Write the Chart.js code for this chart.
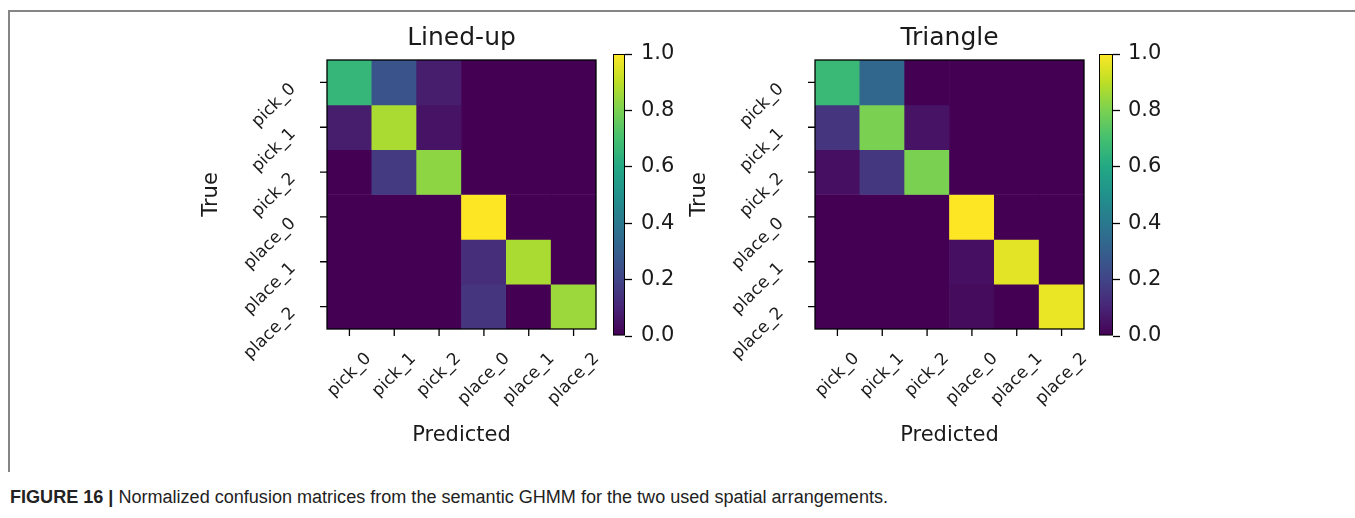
<!DOCTYPE html>
<html>
<head>
<meta charset="utf-8">
<script src="https://cdn.jsdelivr.net/npm/chart.js@4.4.0/dist/chart.umd.min.js"></script>
<style>
  body { margin: 0; background: #fff; width: 1355px; height: 518px; overflow: hidden; position: relative; }
  .frame { position: absolute; left: 8px; top: 10px; width: 1347px; height: 460px; border-top: 2px solid #858585; border-left: 2px solid #858585; }
  canvas { position: absolute; top: 0; }
  #leftMatrix { left: 150px; }
  #leftBar { left: 600px; }
  #rightMatrix { left: 640px; }
  #rightBar { left: 1086px; }
  .caption { position: absolute; left: 10px; top: 487px; font: 18px "Liberation Sans Narrow", "Liberation Sans", sans-serif; color: #222; white-space: nowrap; transform-origin: 0 50%; }
  .caption b { font-weight: bold; }
</style>
</head>
<body>
<div class="frame"></div>
<canvas id="leftMatrix" width="460" height="470"></canvas>
<canvas id="leftBar" width="100" height="400"></canvas>
<canvas id="rightMatrix" width="460" height="470"></canvas>
<canvas id="rightBar" width="100" height="400"></canvas>
<div class="caption"><b>FIGURE 16 |</b> Normalized confusion matrices from the semantic GHMM for the two used spatial arrangements.</div>

<script>
// class labels (rows = true, columns = predicted)
const classes = ["pick_0", "pick_1", "pick_2", "place_0", "place_1", "place_2"];

// normalized confusion matrix, "Lined-up" arrangement
const linedUp = [
  [0.66, 0.26, 0.08, 0.00, 0.00, 0.00],
  [0.08, 0.87, 0.05, 0.00, 0.00, 0.00],
  [0.00, 0.17, 0.83, 0.00, 0.00, 0.00],
  [0.00, 0.00, 0.00, 1.00, 0.00, 0.00],
  [0.00, 0.00, 0.00, 0.13, 0.87, 0.00],
  [0.00, 0.00, 0.00, 0.15, 0.00, 0.85]
];

// normalized confusion matrix, "Triangle" arrangement
const triangle = [
  [0.67, 0.33, 0.00, 0.00, 0.00, 0.00],
  [0.15, 0.80, 0.05, 0.00, 0.00, 0.00],
  [0.04, 0.16, 0.80, 0.00, 0.00, 0.00],
  [0.00, 0.00, 0.00, 1.00, 0.00, 0.00],
  [0.00, 0.00, 0.00, 0.04, 0.96, 0.00],
  [0.00, 0.00, 0.00, 0.03, 0.00, 0.97]
];

const cbarTicks = [0.0, 0.2, 0.4, 0.6, 0.8, 1.0];

// viridis colour map
const viridisStops = ["#440154", "#482475", "#414487", "#355f8d", "#2a788e", "#21918c",
                      "#22a884", "#44bf70", "#7ad151", "#bddf26", "#fde725"];

function hexRgb(h) {
  return [parseInt(h.slice(1, 3), 16), parseInt(h.slice(3, 5), 16), parseInt(h.slice(5, 7), 16)];
}

function viridis(v) {
  v = Math.max(0, Math.min(1, v));
  const p = v * (viridisStops.length - 1);
  const i = Math.min(Math.floor(p), viridisStops.length - 2);
  const t = p - i;
  const a = hexRgb(viridisStops[i]), b = hexRgb(viridisStops[i + 1]);
  const c = a.map((x, k) => Math.round(x + (b[k] - x) * t));
  return `rgb(${c[0]},${c[1]},${c[2]})`;
}

const TXT = "#1a1a1a";
const TICK_SIZE = 17;
const TICK_FONT = TICK_SIZE + 'px "DejaVu Sans"';
const LABEL_FONT = '21px "DejaVu Sans"';
const TITLE_FONT = '25px "DejaVu Sans"';

// draws frame, ticks, rotated tick labels, axis titles and title like matplotlib
const matrixAxes = {
  id: "matrixAxes",
  afterDraw(chart, args, opts) {
    const ctx = chart.ctx;
    const area = chart.chartArea;
    const xs = chart.scales.x, ys = chart.scales.y;
    ctx.save();
    ctx.strokeStyle = "#000";
    ctx.lineWidth = 1.3;
    ctx.strokeRect(area.left, area.top, area.right - area.left, area.bottom - area.top);

    ctx.fillStyle = TXT;
    ctx.font = TICK_FONT;
    classes.forEach((name, i) => {
      const x = xs.getPixelForValue(i);
      const y = ys.getPixelForValue(i + 0.5);
      ctx.beginPath();
      ctx.moveTo(x, area.bottom); ctx.lineTo(x, area.bottom + 7);
      ctx.moveTo(area.left, y); ctx.lineTo(area.left - 7, y);
      ctx.stroke();

      const w = ctx.measureText(name).width;
      const s = (w + TICK_SIZE) * Math.SQRT1_2;
      ctx.textAlign = "center";
      ctx.textBaseline = "middle";
      // bottom labels: centred under tick
      ctx.save();
      ctx.translate(x, area.bottom + 21 + s / 2);
      ctx.rotate(-Math.PI / 4);
      ctx.fillText(name, 0, 0);
      ctx.restore();
      // left labels: right/top aligned at tick
      ctx.save();
      ctx.translate(area.left - 28 - s / 2, y - 2 + s / 2);
      ctx.rotate(-Math.PI / 4);
      ctx.fillText(name, 0, 0);
      ctx.restore();
    });

    const cx = (area.left + area.right) / 2;
    const cy = (area.top + area.bottom) / 2;
    ctx.textAlign = "center";
    ctx.textBaseline = "middle";
    ctx.font = LABEL_FONT;
    ctx.fillText("Predicted", cx, area.bottom + 107);
    ctx.save();
    ctx.translate(area.left - 115, cy);
    ctx.rotate(-Math.PI / 2);
    ctx.fillText("True", 0, 0);
    ctx.restore();
    ctx.font = TITLE_FONT;
    ctx.fillText(opts.title, cx, area.top - 22);
    ctx.restore();
  }
};

function makeMatrix(id, title, matrix, pad) {
  new Chart(document.getElementById(id), {
    type: "bar",
    data: {
      labels: classes,
      datasets: matrix.map((row, r) => ({
        data: row.map(() => [r, r + 1]),
        backgroundColor: row.map(v => viridis(v)),
        borderWidth: 0,
        barPercentage: 1,
        categoryPercentage: 1,
        grouped: false
      }))
    },
    options: {
      responsive: false,
      animation: false,
      devicePixelRatio: 1,
      layout: { padding: pad },
      plugins: { legend: { display: false }, tooltip: { enabled: false }, matrixAxes: { title } },
      scales: {
        x: { type: "category", display: false },
        y: { type: "linear", min: 0, max: classes.length, reverse: true, display: false }
      }
    },
    plugins: [matrixAxes]
  });
}

function makeColorbar(id, pad, labelPad) {
  new Chart(document.getElementById(id), {
    type: "bar",
    data: {
      labels: [""],
      datasets: [{
        data: [[cbarTicks[0], cbarTicks[cbarTicks.length - 1]]],
        backgroundColor: (c) => {
          const a = c.chart.chartArea;
          if (!a) return viridis(0.5);
          const g = c.chart.ctx.createLinearGradient(0, a.bottom, 0, a.top);
          viridisStops.forEach((s, i) => g.addColorStop(i / (viridisStops.length - 1), s));
          return g;
        },
        borderColor: "#000",
        borderWidth: 1.3,
        borderSkipped: false,
        barPercentage: 1,
        categoryPercentage: 1
      }]
    },
    options: {
      responsive: false,
      animation: false,
      devicePixelRatio: 1,
      layout: { padding: pad },
      plugins: { legend: { display: false }, tooltip: { enabled: false } },
      scales: {
        x: { display: false },
        y: {
          position: "right",
          min: 0, max: 1,
          afterBuildTicks: (scale) => { scale.ticks = cbarTicks.map(v => ({ value: v })); },
          afterFit: (scale) => { scale.width = 62; },
          border: { display: false },
          grid: { drawOnChartArea: false, drawTicks: true, tickLength: 7, tickColor: "#000", tickWidth: 1.3 },
          ticks: {
            padding: labelPad,
            color: TXT,
            font: { family: "DejaVu Sans", size: 21 },
            callback: (v) => Number(v).toFixed(1)
          }
        }
      }
    }
  });
}

makeMatrix("leftMatrix", "Lined-up", linedUp, { left: 177, right: 14, top: 60, bottom: 141 });
makeMatrix("rightMatrix", "Triangle", triangle, { left: 175, right: 16, top: 60, bottom: 141 });
makeColorbar("leftBar", { left: 13, right: 13, top: 54, bottom: 64 }, 9);
makeColorbar("rightBar", { left: 13, right: 11, top: 54, bottom: 64 }, 8);

// squeeze the caption to the width it has in the figure
const cap = document.querySelector(".caption");
cap.style.transform = "scaleX(" + (878 / cap.getBoundingClientRect().width) + ")";
</script>
</body>
</html>
